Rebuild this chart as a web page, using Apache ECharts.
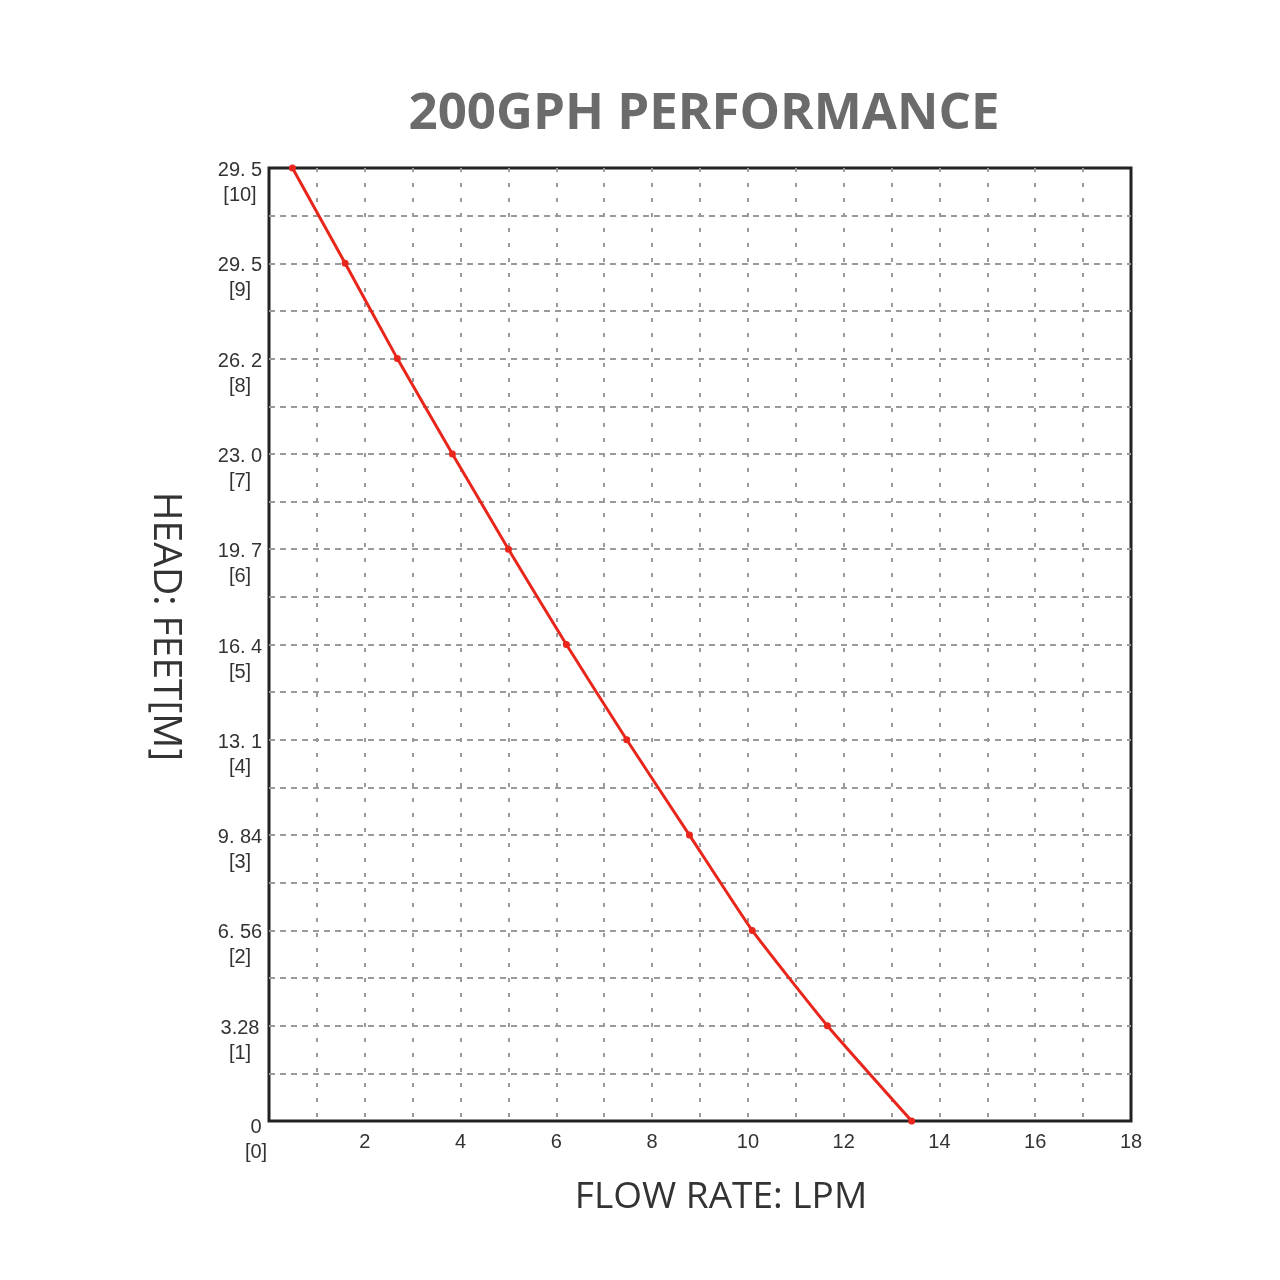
<!DOCTYPE html>
<html>
<head>
<meta charset="utf-8">
<script src="https://cdn.jsdelivr.net/npm/echarts@6/dist/echarts.min.js"></script>
<style>
  html, body { margin: 0; padding: 0; background: #fff; }
  #chart { width: 1280px; height: 1280px; }
</style>
</head>
<body>
<div id="chart"></div>
<script>
// flow rate (LPM) read at each whole metre of head
const flowLpm = [0.49, 1.59, 2.68, 3.83, 5.0, 6.21, 7.47, 8.78, 10.09, 11.66, 13.42]
const headM = [10, 9, 8, 7, 6, 5, 4, 3, 2, 1, 0]

// head tick labels: feet over [metres]
const headFeetLabels = ['0', '3.28', '6. 56', '9. 84', '13. 1', '16. 4', '19. 7', '23. 0', '26. 2', '29. 5', '29. 5']

const chart = echarts.init(document.getElementById('chart'))

const gridDash = {
  color: '#9a9a9a',
  width: 2
}

chart.setOption({
  backgroundColor: '#fff',
  animation: false,
  title: {
    text: '200GPH PERFORMANCE',
    left: 699,
    top: 84,
    textAlign: 'center',
    textStyle: {
      fontFamily: 'Open Sans',
      fontWeight: 'bold',
      fontSize: 51,
      color: '#6b6b6b'
    }
  },
  grid: {
    left: 269,
    right: 149,
    top: 168,
    bottom: 159,
    show: true,
    borderColor: '#222',
    borderWidth: 3,
    backgroundColor: 'transparent'
  },
  xAxis: {
    type: 'value',
    min: 0,
    max: 18,
    interval: 1,
    name: 'FLOW RATE: LPM',
    nameLocation: 'middle',
    nameGap: 58,
    nameTextStyle: {
      fontFamily: 'Open Sans',
      fontSize: 37,
      color: '#333',
      padding: [0, 0, 0, 42]
    },
    axisLine: { show: false },
    axisTick: { show: false },
    axisLabel: {
      margin: 11,
      fontFamily: 'Liberation Sans',
      fontSize: 20,
      color: '#333',
      formatter: v => (v > 0 && v % 2 === 0 ? String(v) : '')
    },
    splitLine: {
      show: true,
      showMinLine: false,
      showMaxLine: false,
      lineStyle: { ...gridDash, type: [4, 11] }
    }
  },
  yAxis: {
    type: 'value',
    min: 0,
    max: 10,
    interval: 0.5,
    name: 'HEAD: FEET[M]',
    nameLocation: 'middle',
    nameRotate: -90,
    nameGap: 84,
    nameTextStyle: {
      fontFamily: 'Open Sans',
      fontSize: 39,
      color: '#333',
      padding: [0, 36, 0, 0]
    },
    axisLine: { show: false },
    axisTick: { show: false },
    axisLabel: {
      margin: 29,
      align: 'center',
      verticalAlign: 'middle',
      fontFamily: 'Liberation Sans',
      fontSize: 20,
      lineHeight: 25,
      color: '#333',
      padding: [5, 0, 0, 0],
      formatter: v => {
        if (v % 1 !== 0) return ''
        if (v === 0) return '{z|\n0\n[0]}'
        return '\n' + headFeetLabels[v] + '\n[' + v + ']'
      },
      rich: {
        z: {
          fontFamily: 'Liberation Sans',
          fontSize: 20,
          lineHeight: 25,
          color: '#333',
          padding: [7, 0, 0, 32]
        }
      }
    },
    splitLine: {
      show: true,
      showMinLine: false,
      showMaxLine: false,
      lineStyle: { ...gridDash, type: [6, 5] }
    }
  },
  series: [
    {
      type: 'line',
      data: flowLpm.map((f, i) => [f, headM[i]]),
      smooth: 0.15,
      symbol: 'circle',
      symbolSize: 7,
      lineStyle: { color: '#e8261c', width: 3 },
      itemStyle: { color: '#e8261c' },
      z: 5
    }
  ]
})
</script>
</body>
</html>
